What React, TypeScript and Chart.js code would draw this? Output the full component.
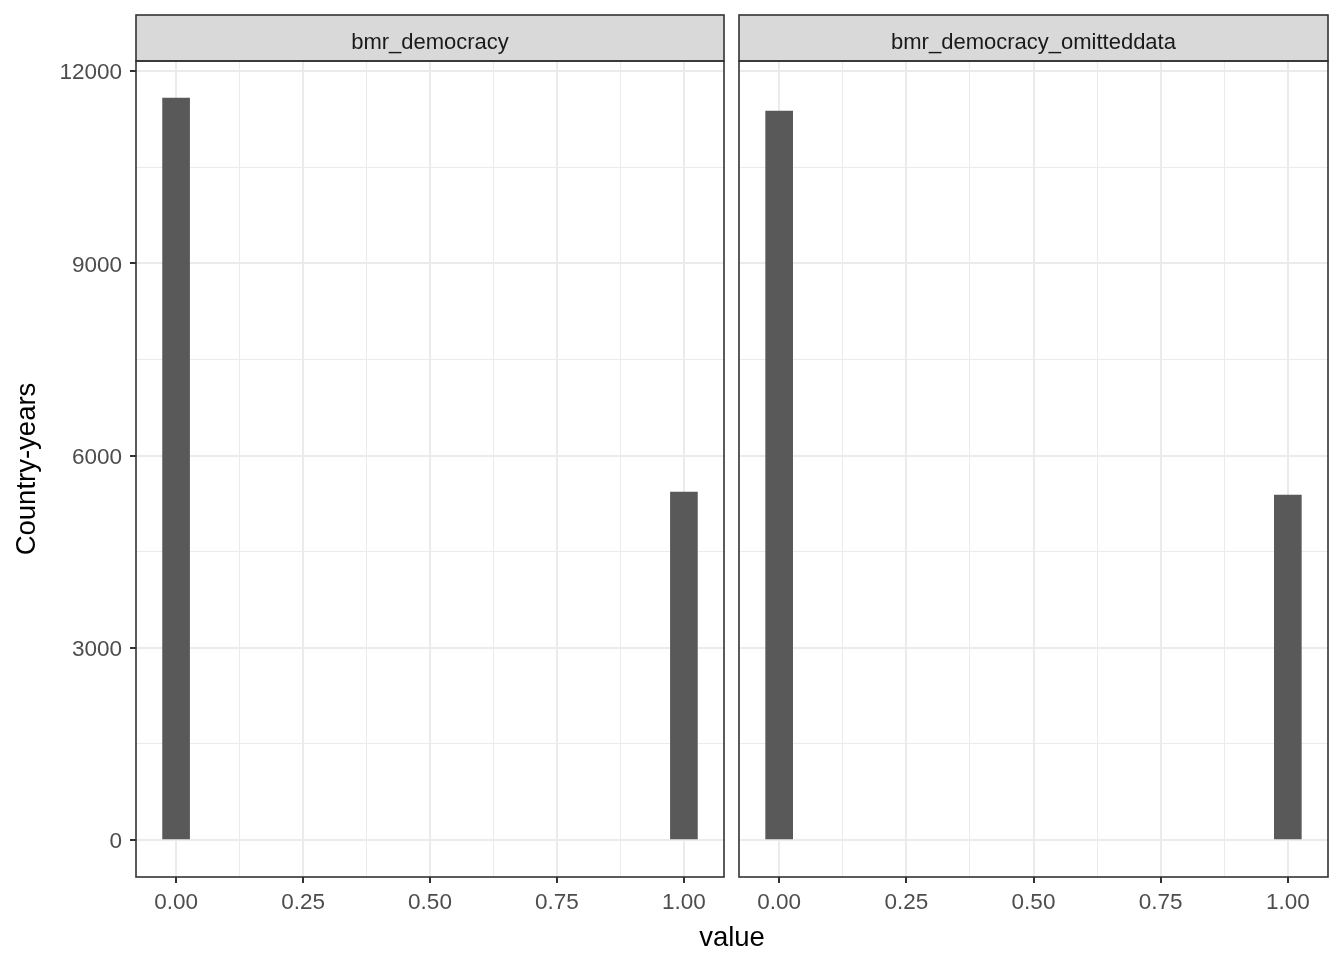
import React, { useEffect, useRef } from "react";
import { Chart, registerables } from "chart.js";
Chart.register(...registerables);

const panels = ["bmr_democracy", "bmr_democracy_omitteddata"];
const binCenters = [0, 1];
const countsDemocracy = [11579, 5431];
const countsOmitted = [11376, 5384];
const binWidth = 1 / 19;
const xMajorTicks = [0, 0.25, 0.5, 0.75, 1];
const xMinorTicks = [0.125, 0.375, 0.625, 0.875];
const yMajorTicks = [0, 3000, 6000, 9000, 12000];
const yMinorTicks = [1500, 4500, 7500, 10500];
const xTitle = "value";
const yTitle = "Country-years";

const FONT = "'Liberation Sans', Arial, sans-serif";
const W = 1344;
const H = 960;

const allCounts = [...countsDemocracy, ...countsOmitted];
const yMaxData = Math.max(...allCounts);
const yMin = -0.05 * yMaxData;
const yMax = 1.05 * yMaxData;
const xLo = binCenters[0] - binWidth / 2;
const xHi = binCenters[binCenters.length - 1] + binWidth / 2;
const xMin = xLo - 0.05 * (xHi - xLo);
const xMax = xHi + 0.05 * (xHi - xLo);

const stripPlugin = {
  id: "strip",
  afterDraw(chart: any, _args: any, opts: any) {
    const { ctx, chartArea: a } = chart;
    ctx.save();
    ctx.fillStyle = "#D9D9D9";
    ctx.fillRect(a.left, 15, a.right - a.left, a.top - 15);
    ctx.strokeStyle = "#333333";
    ctx.lineWidth = 1.6;
    ctx.strokeRect(a.left, 15, a.right - a.left, a.top - 15);
    ctx.strokeRect(a.left, a.top, a.right - a.left, a.bottom - a.top);
    ctx.fillStyle = "#1A1A1A";
    ctx.font = `22px ${FONT}`;
    ctx.textAlign = "center";
    ctx.textBaseline = "alphabetic";
    ctx.fillText(opts.label, (a.left + a.right) / 2, 49);
    if (opts.xTitle) {
      ctx.fillStyle = "#000000";
      ctx.font = `27.5px ${FONT}`;
      ctx.fillText(opts.xTitle, opts.xTitleX, 946);
    }
    ctx.restore();
  },
};

function makeConfig(idx: number): any {
  const isLeft = idx === 0;
  const counts = isLeft ? countsDemocracy : countsOmitted;
  const major = (arr: number[]) => (ctx: any) =>
    ctx.tick && arr.some((v) => Math.abs(v - ctx.tick.value) < 1e-9);
  const isXMajor = major(xMajorTicks);
  const isYMajor = major(yMajorTicks);
  return {
    type: "bar",
    data: {
      datasets: [
        {
          data: binCenters.map((x, i) => ({ x, y: counts[i] })),
          backgroundColor: "#595959",
          borderWidth: 0,
          barThickness: 27,
        },
      ],
    },
    plugins: [stripPlugin],
    options: {
      animation: false,
      responsive: false,
      devicePixelRatio: 1,
      layout: {
        padding: isLeft
          ? { left: 0, top: 61, right: W - 724, bottom: 0 }
          : { left: 739, top: 61, right: W - 1328, bottom: 0 },
      },
      plugins: {
        legend: { display: false },
        tooltip: { enabled: false },
        strip: {
          label: panels[idx],
          xTitle: isLeft ? xTitle : null,
          xTitleX: 732,
        },
      },
      scales: {
        x: {
          type: "linear",
          min: xMin,
          max: xMax,
          offset: false,
          afterBuildTicks: (scale: any) => {
            scale.ticks = [...xMajorTicks, ...xMinorTicks]
              .sort((a, b) => a - b)
              .map((v) => ({ value: v }));
          },
          afterFit: (scale: any) => {
            scale.height = H - 877;
          },
          ticks: {
            autoSkip: false,
            maxRotation: 0,
            padding: 6,
            color: "#4D4D4D",
            font: { family: FONT, size: 22.5 },
            callback: (v: number) =>
              xMajorTicks.some((m) => Math.abs(m - v) < 1e-9) ? v.toFixed(2) : "",
          },
          grid: {
            offset: false,
            drawTicks: true,
            tickLength: 6,
            color: "#EBEBEB",
            lineWidth: (ctx: any) => (isXMajor(ctx) ? 2 : 1),
            tickColor: (ctx: any) => (isXMajor(ctx) ? "#333333" : "rgba(0,0,0,0)"),
            tickWidth: 2,
          },
          border: { display: false },
        },
        y: {
          type: "linear",
          min: yMin,
          max: yMax,
          afterBuildTicks: (scale: any) => {
            scale.ticks = [...yMajorTicks, ...yMinorTicks]
              .sort((a, b) => a - b)
              .map((v) => ({ value: v }));
          },
          afterFit: (scale: any) => {
            scale.width = isLeft ? 136 : 0;
          },
          title: {
            display: isLeft,
            text: yTitle,
            color: "#000000",
            font: { family: FONT, size: 27.5 },
            padding: { top: 11, bottom: 0 },
          },
          ticks: {
            display: isLeft,
            autoSkip: false,
            padding: 8,
            labelOffset: 2,
            color: "#4D4D4D",
            font: { family: FONT, size: 22.5 },
            callback: (v: number) =>
              yMajorTicks.some((m) => Math.abs(m - v) < 1e-9) ? String(v) : "",
          },
          grid: {
            drawTicks: isLeft,
            tickLength: 6,
            color: "#EBEBEB",
            lineWidth: (ctx: any) => (isYMajor(ctx) ? 2 : 1),
            tickColor: (ctx: any) => (isYMajor(ctx) ? "#333333" : "rgba(0,0,0,0)"),
            tickWidth: 2,
          },
          border: { display: false },
        },
      },
    },
  };
}

export default function App() {
  const leftRef = useRef<HTMLCanvasElement | null>(null);
  const rightRef = useRef<HTMLCanvasElement | null>(null);

  useEffect(() => {
    const charts: Chart[] = [];
    if (leftRef.current) charts.push(new Chart(leftRef.current, makeConfig(0)));
    if (rightRef.current) charts.push(new Chart(rightRef.current, makeConfig(1)));
    return () => charts.forEach((c) => c.destroy());
  }, []);

  const canvasStyle: React.CSSProperties = {
    position: "absolute",
    left: 0,
    top: 0,
    width: W,
    height: H,
  };

  return (
    <div
      style={{
        position: "absolute",
        left: 0,
        top: 0,
        width: W,
        height: H,
        background: "#FFFFFF",
      }}
    >
      <canvas ref={leftRef} width={W} height={H} style={canvasStyle} />
      <canvas ref={rightRef} width={W} height={H} style={canvasStyle} />
    </div>
  );
}
